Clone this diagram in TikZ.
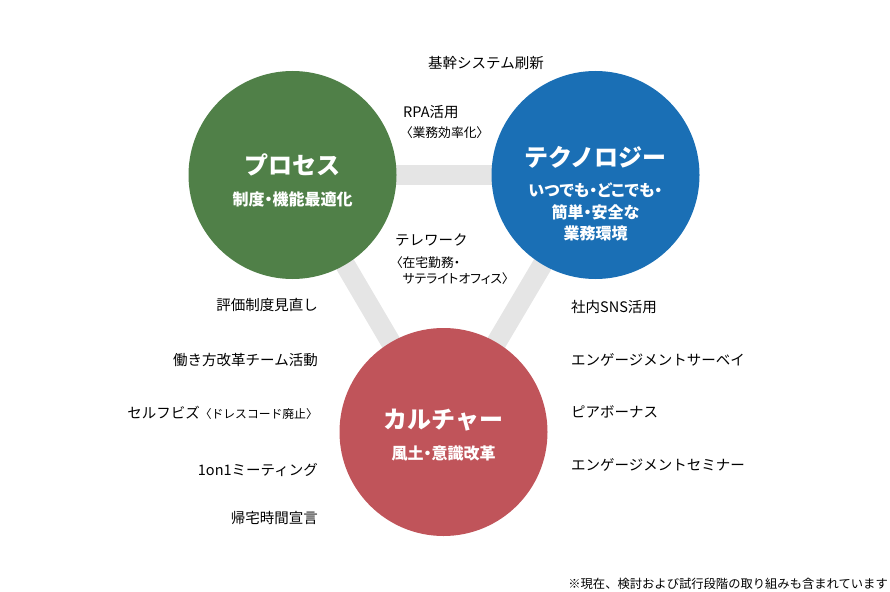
\documentclass[tikz,border=0pt]{standalone}
\usepackage{fontspec}
\setmainfont{Noto Sans CJK JP}
\newfontfamily\paltfont{Noto Sans CJK JP}[RawFeature=+palt]
\usepackage{tikz}
\usepackage{xcolor}
\usetikzlibrary{backgrounds}

\definecolor{procgreen}{RGB}{80,128,72}
\definecolor{techblue}{RGB}{26,111,181}
\definecolor{cultred}{RGB}{192,84,90}
\definecolor{bandgray}{RGB}{229,229,229}

\tikzset{
  pillar/.style={circle, minimum size=208pt, inner sep=0pt},
  band/.style={line width=20pt, bandgray},
  title/.style={text=white, inner sep=0pt, font=\fontsize{24}{28}\selectfont\bfseries},
  subtitle/.style={text=white, inner sep=0pt, align=center, font=\paltfont\fontsize{16}{21.5}\selectfont\bfseries},
  item/.style={inner sep=0pt, font=\fontsize{14.5}{18}\selectfont},
  note/.style={inner sep=0pt, align=left, font=\paltfont\fontsize{12.8}{16}\selectfont},
}

\begin{document}
\begin{tikzpicture}[x=1pt,y=-1pt]
\useasboundingbox (0,0) rectangle (890,591);

\node[pillar, fill=procgreen] (proc) at (292.5,175) {};
\node[pillar, fill=techblue] (tech) at (595.5,175) {};
\node[pillar, fill=cultred] (cult) at (443.5,432) {};

\begin{scope}[on background layer]
\draw[band] (proc.center) -- (tech.center);
\draw[band] (proc.center) -- (cult.center);
\draw[band] (tech.center) -- (cult.center);
\end{scope}

\node[title] (proc-title) at (292.5,165) {プロセス};
\node[subtitle] (proc-sub) at (292.5,199) {制度・機能最適化};

\node[title] (tech-title) at (595.5,157) {テクノロジー};
\node[subtitle] (tech-sub) at (595.5,212) {いつでも・どこでも・\\簡単・安全な\\業務環境};

\node[title] (cult-title) at (443.5,420) {カルチャー};
\node[subtitle] (cult-sub) at (443.5,453) {風土・意識改革};

% between the circles
\node[item] (kikan) at (486,63) {基幹システム刷新};
\node[item, anchor=west] (rpa) at (403,112) {RPA活用};
\node[note, anchor=west] (rpa-note) at (406,133) {〈業務効率化〉};
\node[item, anchor=west] (tele) at (395,240) {テレワーク};
\node[note, anchor=west] (tele-note) at (396,271) {〈在宅勤務・\\\hspace*{0.5em}サテライトオフィス〉};

% process side
\node[item, anchor=east] (hyoka) at (318,305) {評価制度見直し};
\node[item, anchor=east] (team) at (318,360) {働き方改革チーム活動};
\node[item, anchor=east] (biz) at (318,413) {セルフビズ{\fontsize{11.8}{14}\selectfont〈ドレスコード廃止〉}};
\node[item, anchor=east] (oneon) at (318,470) {1on1ミーティング};
\node[item, anchor=east] (kitaku) at (318,518) {帰宅時間宣言};

% technology side
\node[item, anchor=west] (sns) at (571,307) {社内SNS活用};
\node[item, anchor=west] (survey) at (571,360) {エンゲージメントサーベイ};
\node[item, anchor=west] (peer) at (571,412) {ピアボーナス};
\node[item, anchor=west] (seminar) at (571,465) {エンゲージメントセミナー};

\node[inner sep=0pt, anchor=east, font=\fontsize{12.3}{15}\selectfont] (footnote) at (888,584) {※現在、検討および試行段階の取り組みも含まれています};
\end{tikzpicture}
\end{document}
